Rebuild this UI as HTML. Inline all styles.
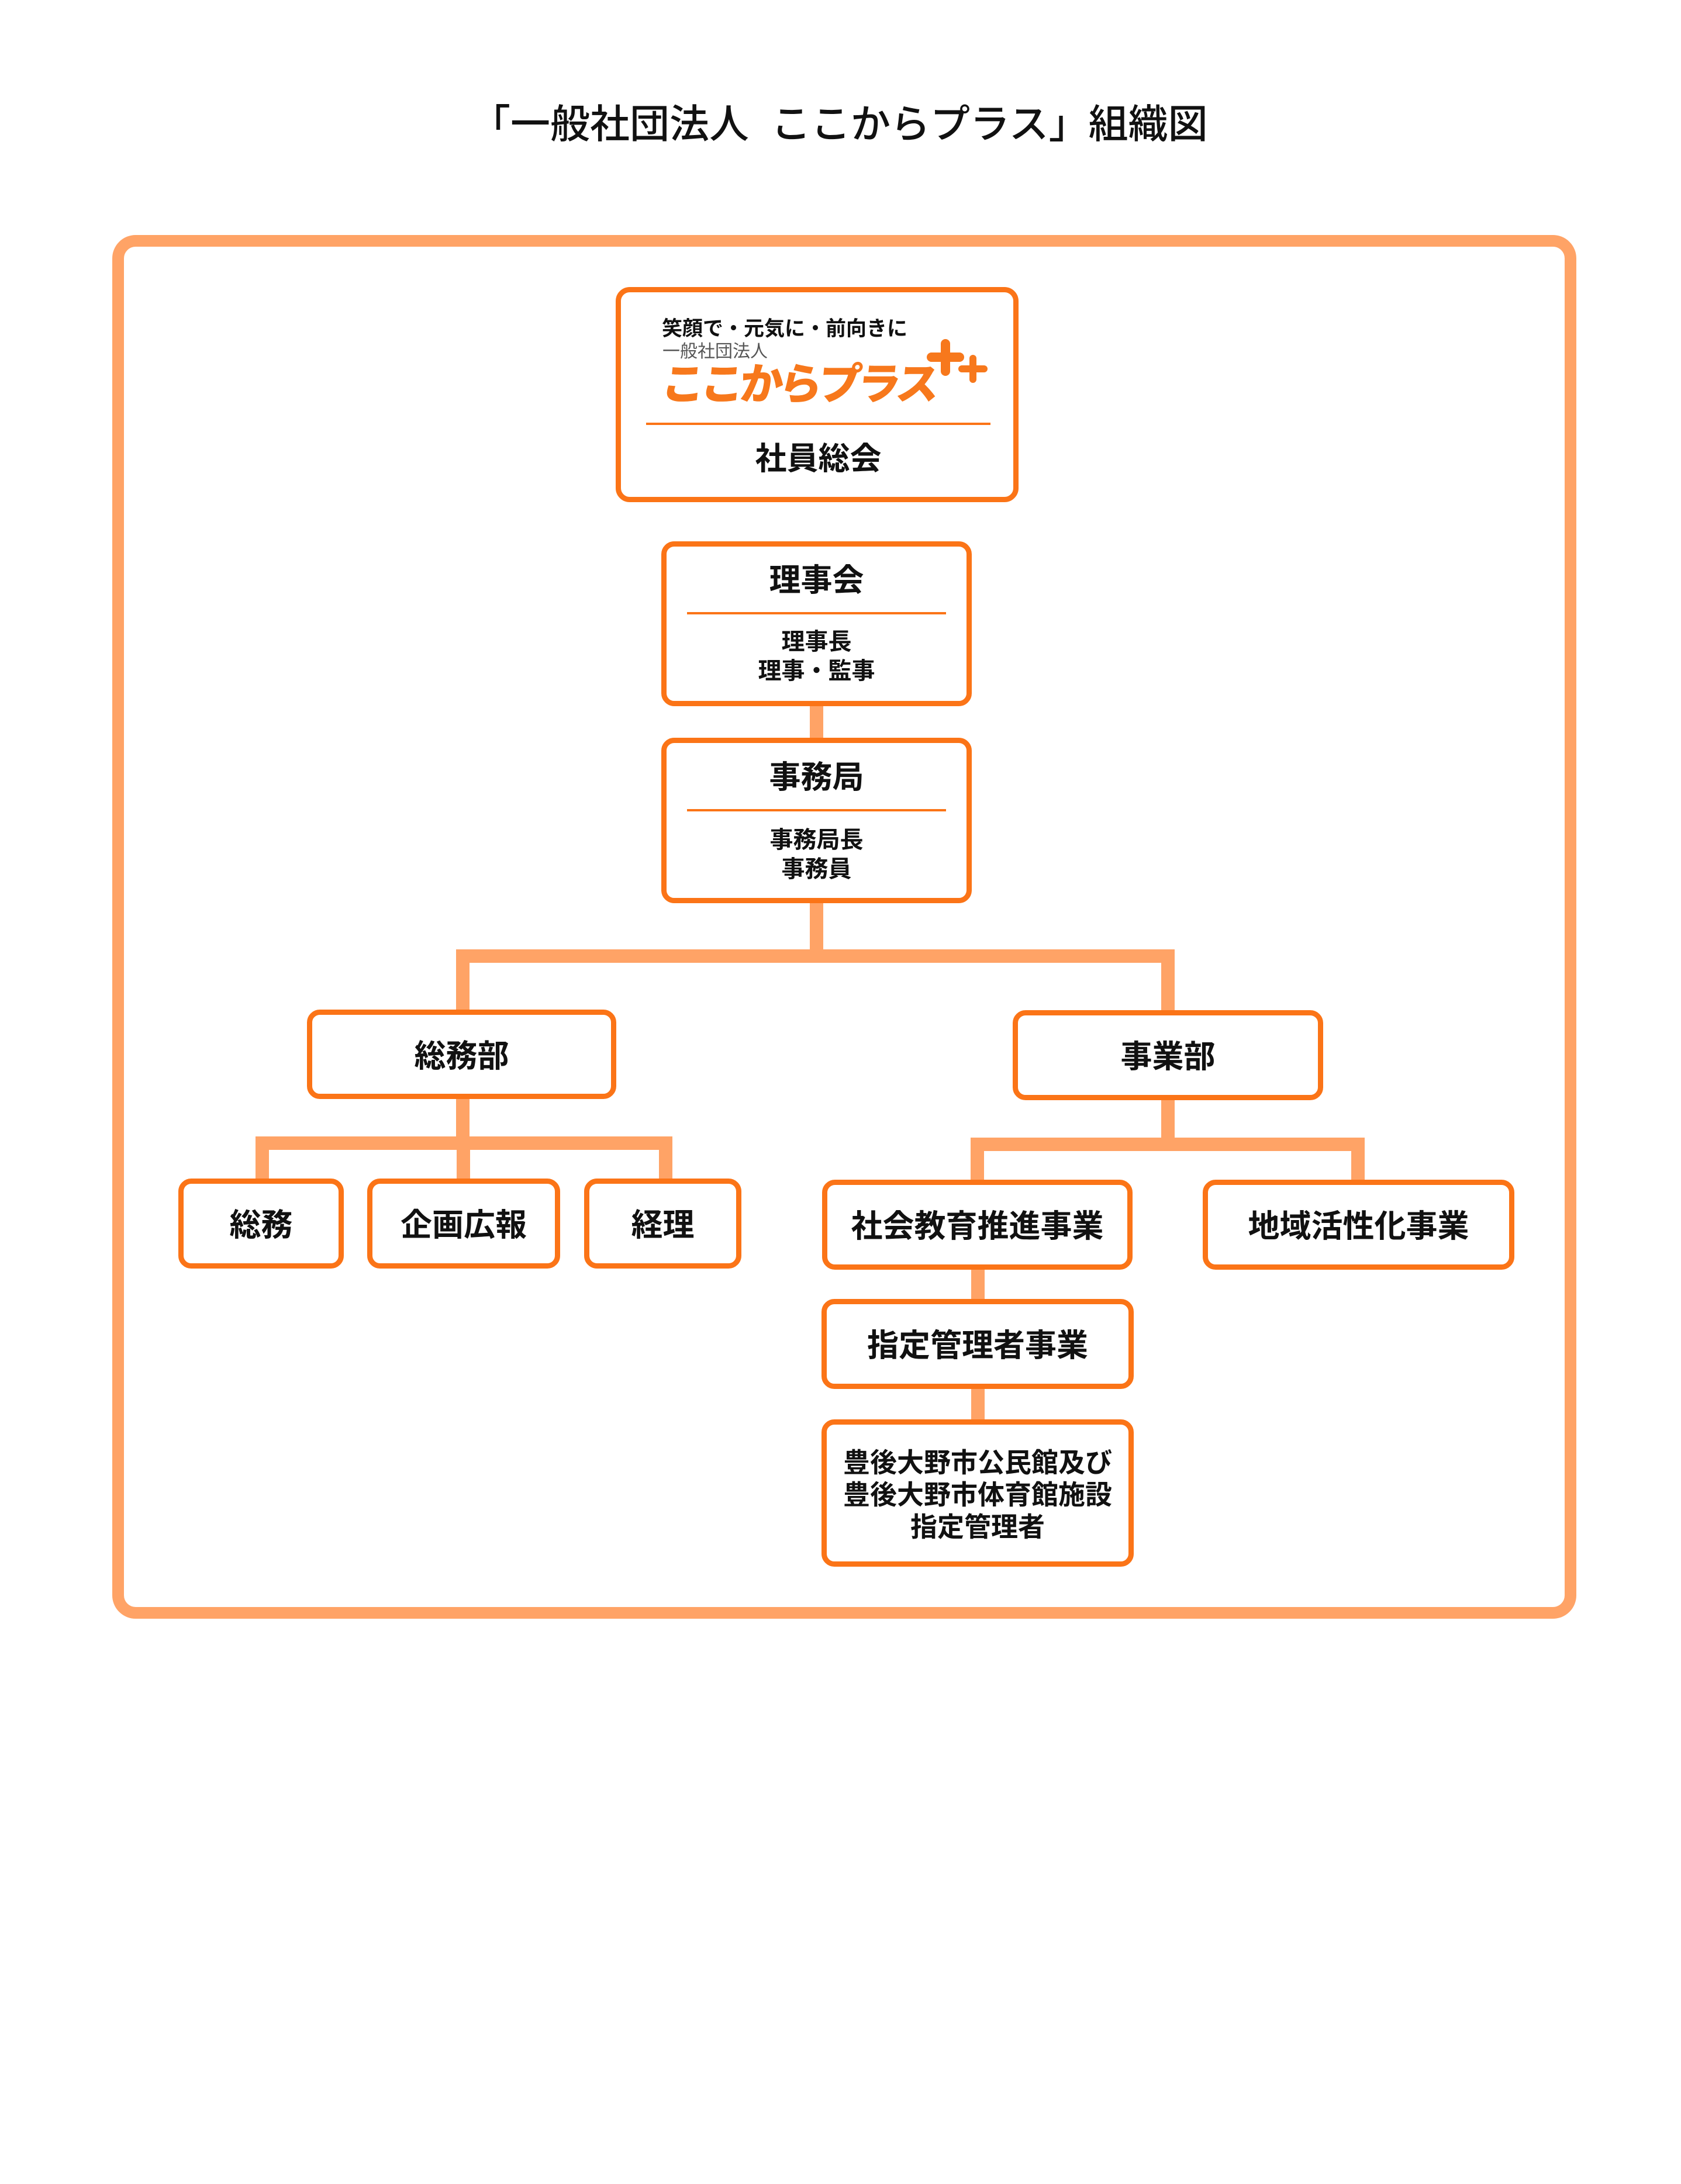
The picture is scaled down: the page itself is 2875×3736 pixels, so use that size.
<!DOCTYPE html>
<html lang="ja">
<head>
<meta charset="utf-8">
<style>
  html, body { margin:0; padding:0; }
  body {
    width:2875px; height:3736px; background:#ffffff;
    position:relative; overflow:hidden;
    font-family:"Liberation Sans","Noto Sans CJK JP",sans-serif;
  }
  .c { position:absolute; background:#FFA366; }
  .b {
    position:absolute; box-sizing:border-box;
    border:9px solid #FB7417; border-radius:22px; background:#fff;
    display:flex; align-items:center; justify-content:center; text-align:center;
    font-weight:700; font-size:54px; line-height:1; color:#111;
    padding-top:6px;
    font-family:"Liberation Sans","Noto Sans CJK JP",sans-serif;
  }
  .t {
    position:absolute; white-space:nowrap; color:#111;
    font-family:"Liberation Sans","Noto Sans CJK JP",sans-serif;
  }
  .sep { position:absolute; background:#FB7417; }
</style>
</head>
<body>

<!-- Title -->
<div class="t" style="left:805px; top:179px; font-size:68px; line-height:68px; font-weight:500;">「一般社団法人<span style="display:inline-block;width:38px;"></span>ここからプラス」組織図</div>

<!-- Outer frame -->
<div style="position:absolute; left:192px; top:402px; width:2504px; height:2367px; box-sizing:border-box; border:20px solid #FFA366; border-radius:40px;"></div>

<!-- Connectors -->
<div class="c" style="left:1385px; top:1205px; width:23px; height:60px;"></div>
<div class="c" style="left:1385px; top:1540px; width:23px; height:107px;"></div>
<div class="c" style="left:780px; top:1624px; width:1229px; height:23px;"></div>
<div class="c" style="left:780px; top:1624px; width:23px; height:106px;"></div>
<div class="c" style="left:1986px; top:1624px; width:23px; height:106px;"></div>

<div class="c" style="left:780px; top:1876px; width:23px; height:91px;"></div>
<div class="c" style="left:437px; top:1944px; width:713px; height:23px;"></div>
<div class="c" style="left:437px; top:1944px; width:23px; height:74px;"></div>
<div class="c" style="left:781px; top:1944px; width:23px; height:74px;"></div>
<div class="c" style="left:1127px; top:1944px; width:23px; height:74px;"></div>

<div class="c" style="left:1986px; top:1878px; width:23px; height:91px;"></div>
<div class="c" style="left:1660px; top:1946px; width:674px; height:23px;"></div>
<div class="c" style="left:1660px; top:1946px; width:23px; height:75px;"></div>
<div class="c" style="left:2311px; top:1946px; width:23px; height:75px;"></div>

<div class="c" style="left:1661px; top:2168px; width:23px; height:58px;"></div>
<div class="c" style="left:1661px; top:2372px; width:23px; height:60px;"></div>

<!-- Top box (logo + 社員総会) -->
<div class="b" style="left:1053px; top:491px; width:689px; height:368px; border-radius:24px;"></div>
<div class="t" style="left:1132px; top:545px; font-size:35px; line-height:35px; font-weight:700;">笑顔で・元気に・前向きに</div>
<div class="t" style="left:1133px; top:587px; font-size:30px; line-height:30px; font-weight:400; color:#555;">一般社団法人</div>
<div class="t" style="left:1128px; top:621px; font-size:74px; line-height:74px; font-weight:900; color:#F7781C; letter-spacing:-7px; transform:skewX(-6deg); transform-origin:left bottom;">ここからプラス</div>
<svg style="position:absolute; left:0; top:0;" width="2875" height="900" viewBox="0 0 2875 900">
  <g stroke="#F7781C" stroke-linecap="round" fill="none">
    <line x1="1617" y1="588" x2="1617" y2="635" stroke-width="16"/>
    <line x1="1593" y1="611" x2="1641" y2="611" stroke-width="16"/>
    <line x1="1664" y1="613" x2="1664" y2="649" stroke-width="12"/>
    <line x1="1645" y1="631" x2="1683" y2="631" stroke-width="12"/>
  </g>
</svg>
<div class="sep" style="left:1105px; top:723px; width:589px; height:4px;"></div>
<div class="t" style="left:1053px; width:693px; text-align:center; top:758px; font-size:54px; line-height:54px; font-weight:700;">社員総会</div>

<!-- 理事会 -->
<div class="b" style="left:1131px; top:926px; width:531px; height:282px;"></div>
<div class="t" style="left:1131px; width:531px; text-align:center; top:966px; font-size:54px; line-height:54px; font-weight:700;">理事会</div>
<div class="sep" style="left:1175px; top:1047px; width:443px; height:4px;"></div>
<div class="t" style="left:1131px; width:531px; text-align:center; top:1073px; font-size:40px; line-height:50px; font-weight:700;">理事長<br>理事・監事</div>

<!-- 事務局 -->
<div class="b" style="left:1131px; top:1262px; width:531px; height:283px;"></div>
<div class="t" style="left:1131px; width:531px; text-align:center; top:1303px; font-size:54px; line-height:54px; font-weight:700;">事務局</div>
<div class="sep" style="left:1175px; top:1384px; width:443px; height:4px;"></div>
<div class="t" style="left:1131px; width:531px; text-align:center; top:1412px; font-size:40px; line-height:50px; font-weight:700;">事務局長<br>事務員</div>

<!-- 部 level -->
<div class="b" style="left:525px; top:1727px; width:529px; height:153px;">総務部</div>
<div class="b" style="left:1732px; top:1728px; width:531px; height:154px;">事業部</div>

<!-- 総務部 children -->
<div class="b" style="left:305px; top:2016px; width:283px; height:154px;">総務</div>
<div class="b" style="left:628px; top:2016px; width:330px; height:154px;">企画広報</div>
<div class="b" style="left:999px; top:2016px; width:269px; height:154px;">経理</div>

<!-- 事業部 children -->
<div class="b" style="left:1406px; top:2018px; width:531px; height:154px;">社会教育推進事業</div>
<div class="b" style="left:2057px; top:2018px; width:533px; height:154px;">地域活性化事業</div>

<div class="b" style="left:1405px; top:2222px; width:534px; height:154px;">指定管理者事業</div>
<div class="b" style="left:1405px; top:2428px; width:534px; height:252px; font-size:46px; line-height:55px;">豊後大野市公民館及び<br>豊後大野市体育館施設<br>指定管理者</div>

</body>
</html>
